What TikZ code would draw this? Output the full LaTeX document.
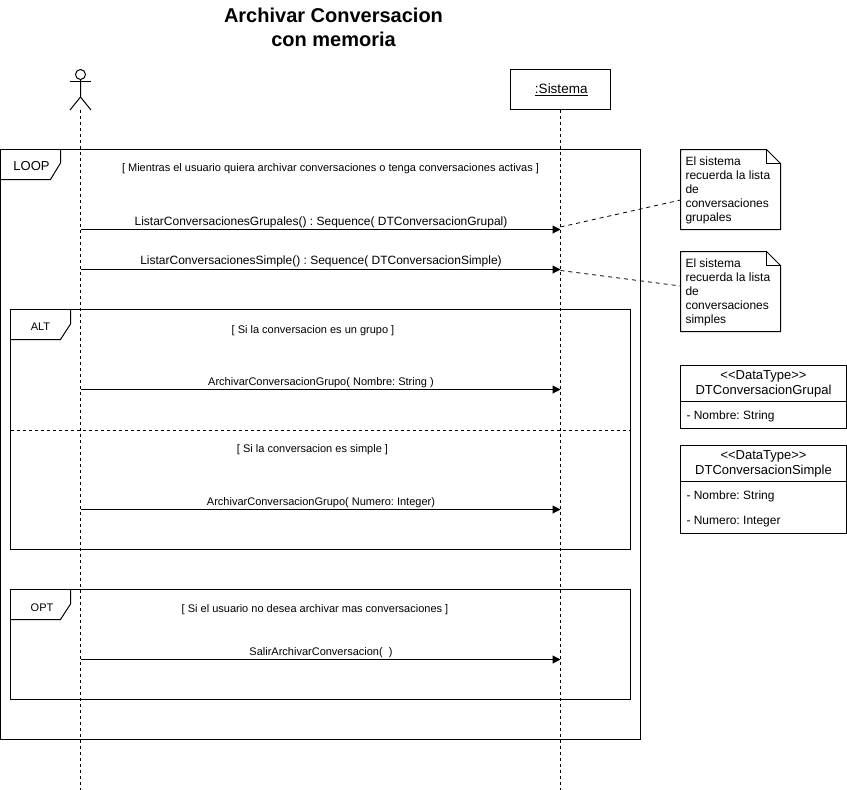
\documentclass[tikz,border=0pt]{standalone}
\usepackage{fontspec}
\setmainfont{Liberation Sans}
\usetikzlibrary{arrows.meta}
\frenchspacing
\tikzstyle{frm} = [rectangle, draw, anchor=north west, inner sep=0pt, outer sep=0pt]
\tikzstyle{obj} = [rectangle, draw, anchor=north west, inner sep=0pt, outer sep=0pt,
    minimum width=100pt, minimum height=40pt, font=\fontsize{13.5}{15}\selectfont]
\tikzstyle{msg} = [font=\fontsize{12}{14}\selectfont, inner sep=0pt]
\tikzstyle{small} = [font=\fontsize{11}{13}\selectfont, inner sep=0pt]
\tikzstyle{note} = [rectangle, anchor=north west, inner sep=0pt, outer sep=0pt,
    minimum width=100pt, minimum height=80pt]
\tikzstyle{notetxt} = [anchor=north west, inner sep=0pt, align=left,
    font=\fontsize{12}{14}\selectfont]
\tikzstyle{dt} = [rectangle, draw, anchor=north west, inner sep=0pt, outer sep=0pt, minimum width=166pt]
\tikzstyle{dthead} = [font=\fontsize{13}{15}\selectfont, align=center, inner sep=0pt]
\tikzstyle{dtattr} = [font=\fontsize{12}{14}\selectfont, inner sep=0pt, anchor=west]
\tikzstyle{life} = [dashed, dash pattern=on 3pt off 3pt]
\tikzstyle{call} = [-{Triangle[length=8pt,width=8pt]}]
\tikzstyle{link} = [dashed, dash pattern=on 4pt off 4pt, line width=0.8pt]

\begin{document}
\begin{tikzpicture}[x=1pt,y=-1pt,line width=1pt]
  \useasboundingbox (0,0) rectangle (847,790);

  \node[font=\bfseries\fontsize{20}{24}\selectfont, align=center, inner sep=0pt]
    (title) at (333.5,27) {Archivar Conversacion\\con memoria};

  % actor
  \node[circle, draw, minimum size=10pt, inner sep=0pt, outer sep=0pt] (head) at (80.5,74.5) {};
  \coordinate (hip) at (80.5,97);
  \coordinate (foot) at (80.5,110);
  \draw (head) -- (hip) -- (70,110);
  \draw (hip) -- (91,110);
  \draw (70,81.5) -- (91,81.5);

  \node[obj] (sis) at (510.5,69.5) {\hspace{1.5pt}\underline{:Sistema}};

  % frames
  \node[frm, minimum width=640pt, minimum height=590pt] (loop) at (0.5,149.5) {};
  \node[frm, minimum width=620pt, minimum height=240pt] (alt) at (10.5,309.5) {};
  \node[frm, minimum width=620pt, minimum height=110pt] (opt) at (10.5,589.5) {};
  \draw (60.5,149.5) -- (60.5,163) -- (50.5,179.5) -- (0.5,179.5);
  \draw (70.5,309.5) -- (70.5,324) -- (60.5,339.5) -- (10.5,339.5);
  \draw (70.5,589.5) -- (70.5,604) -- (60.5,619.5) -- (10.5,619.5);
  \node[font=\fontsize{13}{15}\selectfont, inner sep=0pt] (loopt) at (31.5,166.5) {LOOP};
  \node[small] (altt) at (40.5,327) {ALT};
  \node[small] (optt) at (42,607.5) {OPT};
  \draw[life] (alt.west |- 0,430) coordinate (sepa) -- (alt.east |- 0,430) coordinate (sepb);

  % guards
  \node[small] (g1) at (330.5,169) {[ Mientras el usuario quiera archivar conversaciones o tenga conversaciones activas ]};
  \node[small] (g2) at (313,331) {[ Si la conversacion es un grupo ]};
  \node[small] (g3) at (312.5,449.5) {[ Si la conversacion es simple ]};
  \node[small] (g4) at (315,609.5) {[ Si el usuario no desea archivar mas conversaciones ]};

  % lifelines
  \coordinate (aend) at (80.5,790);
  \coordinate (send) at (560.5,790);
  \draw[life] (foot) -- (aend);
  \draw[life] (sis.south) -- (send);

  % messages
  \foreach \n/\y in {1/229.5,2/269.5,3/389.5,4/509.5,5/659.5} {
    \coordinate (a\n) at (80.5,\y);
    \coordinate (s\n) at (560.5,\y);
    \draw[call] (a\n) -- (s\n);
  }
  \node[msg] (m1) at (321,222) {ListarConversacionesGrupales() : Sequence( DTConversacionGrupal)};
  \node[msg] (m2) at (321,261.5) {ListarConversacionesSimple() : Sequence( DTConversacionSimple)};
  \node[small] (m3) at (321,383) {ArchivarConversacionGrupo( Nombre: String )};
  \node[small] (m4) at (321,502.5) {ArchivarConversacionGrupo( Numero: Integer)};
  \node[small] (m5) at (321,652.5) {SalirArchivarConversacion(\ \ )};

  % notes
  \node[note] (n1) at (680.5,149.5) {};
  \node[note] (n2) at (680.5,251.5) {};
  \foreach \n in {n1,n2} {
    \draw (\n.north west) -- ([xshift=-14pt]\n.north east) -- ([yshift=-14pt]\n.north east)
      -- (\n.south east) -- (\n.south west) -- cycle;
    \draw ([xshift=-14pt]\n.north east) -- ([xshift=-14pt,yshift=-14pt]\n.north east)
      -- ([yshift=-14pt]\n.north east);
  }
  \node[notetxt] (n1t) at (685,156) {El sistema\\recuerda la lista\\de\\conversaciones\\grupales};
  \node[notetxt] (n2t) at (685,258) {El sistema\\recuerda la lista\\de\\conversaciones\\simples};
  \coordinate (n1p) at (680.5,200);
  \coordinate (n2p) at (680.5,286);
  \coordinate (l1) at (560.5,227);
  \coordinate (l2) at (560.5,270.5);
  \draw[link] (l1) -- (n1p);
  \draw[link] (l2) -- (n2p);

  % data types
  \node[dt, minimum height=63pt] (dt1) at (680.5,365) {};
  \node[dt, minimum height=88.5pt] (dt2) at (680.5,445) {};
  \draw (dt1.west |- 0,401.5) -- (dt1.east |- 0,401.5);
  \draw (dt2.west |- 0,481.5) -- (dt2.east |- 0,481.5);
  \node[dthead] (dt1h) at (763.5,383.5) {<{}<DataType>{}>\\DTConversacionGrupal};
  \node[dthead] (dt2h) at (763.5,463.5) {<{}<DataType>{}>\\DTConversacionSimple};
  \node[dtattr] (dt1a) at (686,416) {- Nombre: String};
  \node[dtattr] (dt2a) at (686,496) {- Nombre: String};
  \node[dtattr] (dt2b) at (686,522) {- Numero: Integer};
\end{tikzpicture}
\end{document}
